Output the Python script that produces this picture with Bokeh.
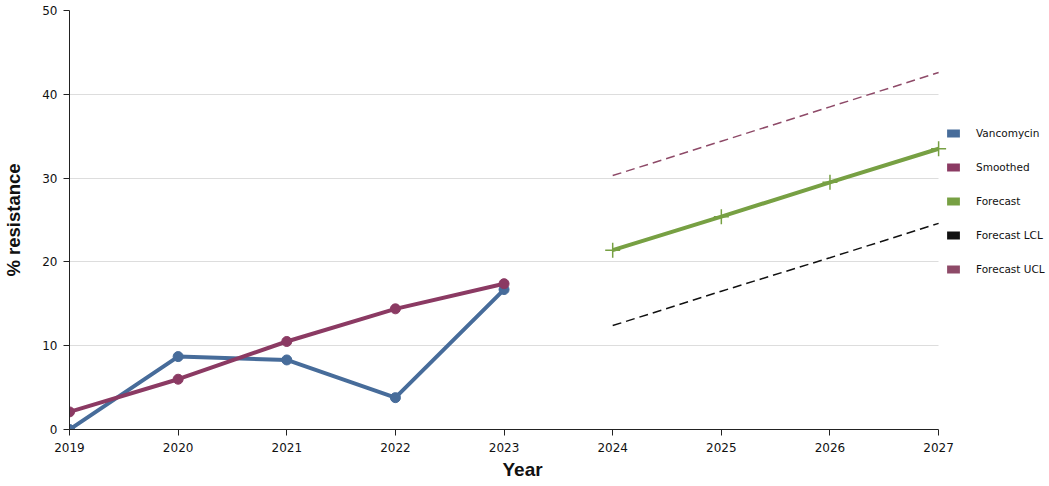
from bokeh.plotting import figure
from bokeh.models import ColumnDataSource, Legend, LegendItem, FixedTicker, Title
from bokeh.embed import file_html
from bokeh.resources import INLINE

years_obs = [2019, 2020, 2021, 2022, 2023]
vancomycin = [0.0, 8.7, 8.3, 3.8, 16.7]
smoothed = [2.1, 6.0, 10.5, 14.4, 17.4]

years_fc = [2024, 2025, 2026, 2027]
forecast = [21.4, 25.4, 29.5, 33.5]
forecast_lcl = [12.4, 16.5, 20.5, 24.6]
forecast_ucl = [30.3, 34.4, 38.5, 42.6]

x_ticks = [2019, 2020, 2021, 2022, 2023, 2024, 2025, 2026, 2027]
y_ticks = [0, 10, 20, 30, 40, 50]

legend_labels = ["Vancomycin", "Smoothed", "Forecast", "Forecast LCL", "Forecast UCL"]
x_title = "Year"
y_title = "% resistance"

BLUE = "#476c9a"
MAROON = "#8b3a63"
GREEN = "#77a043"
BLACK = "#111111"
UCL = "#8e4a68"
colors = [BLUE, MAROON, GREEN, BLACK, UCL]

# layout: plotted years span 870 px, legend sits to the right inside the frame
FIG_W, FIG_H, LEFT, TOP, BOTTOM = 1049, 486, 68, 10, 57
PLOT_W = 870
x_start, x_end_data = x_ticks[0], x_ticks[-1]
x_end = x_start + (x_end_data - x_start) * (FIG_W - LEFT) / PLOT_W

p = figure(width=FIG_W, height=FIG_H, output_backend="svg", toolbar_location=None,
           x_range=(x_start, x_end), y_range=(0, 50),
           min_border_left=LEFT, min_border_right=0, min_border_top=TOP,
           min_border_bottom=BOTTOM)
p.outline_line_color = None
p.background_fill_color = "white"
p.border_fill_color = "white"

obs = ColumnDataSource(dict(x=years_obs, v=vancomycin, s=smoothed))
fc = ColumnDataSource(dict(x=years_fc, f=forecast, l=forecast_lcl, u=forecast_ucl))

p.line("x", "v", source=obs, line_color=BLUE, line_width=4)
p.scatter("x", "v", source=obs, marker="circle", size=10, fill_color=BLUE, line_color=BLUE)
p.line("x", "s", source=obs, line_color=MAROON, line_width=4)
p.scatter("x", "s", source=obs, marker="circle", size=10, fill_color=MAROON, line_color=MAROON)

p.line("x", "u", source=fc, line_color=UCL, line_width=1.5, line_dash="9 5")
p.line("x", "l", source=fc, line_color=BLACK, line_width=1.5, line_dash="9 5")
p.line("x", "f", source=fc, line_color=GREEN, line_width=4)
p.scatter("x", "f", source=fc, marker="cross", size=15, line_color=GREEN, line_width=1.5)

# legend swatches (nothing drawn in the plot area)
nan = float("nan")
items = []
for lab, col in zip(legend_labels, colors):
    r = p.quad(left=[nan], right=[nan], top=[nan], bottom=[nan], fill_color=col, line_color=None)
    items.append(LegendItem(label=lab, renderers=[r]))

legend = Legend(items=items, location=(876, 152), padding=0, margin=0,
                border_line_color=None, background_fill_alpha=0,
                glyph_width=16, glyph_height=10, label_height=16, spacing=18,
                label_standoff=15, label_text_font="DejaVu Sans",
                label_text_font_size="10.5px", label_text_color="#111111")
p.add_layout(legend)

p.xaxis.ticker = FixedTicker(ticks=x_ticks)
p.yaxis.ticker = FixedTicker(ticks=y_ticks)
p.xaxis.bounds = (x_start, x_end_data)
p.xaxis.minor_tick_line_color = None
p.yaxis.minor_tick_line_color = None
for ax in (p.xaxis, p.yaxis):
    ax.axis_line_color = "#222222"
    ax.major_tick_line_color = "#222222"
    ax.major_tick_out = 6
    ax.major_tick_in = 0
    ax.major_label_text_font = "DejaVu Sans"
    ax.major_label_text_font_size = "12px"
    ax.major_label_text_color = "#111111"
    ax.axis_label_text_font = "Liberation Sans"
    ax.axis_label_text_font_style = "bold"
    ax.axis_label_text_font_size = "18.5px"
    ax.axis_label_text_color = "#111111"

p.yaxis.axis_label = y_title
p.yaxis.axis_label_standoff = 15
p.xaxis.major_label_standoff = 7
p.yaxis.major_label_standoff = 6

# x title placed below the axis, centred under the plotted years
p.add_layout(Title(text=x_title, align="left", offset=433, standoff=9,
                   vertical_align="top",
                   text_font="Liberation Sans", text_font_style="bold",
                   text_font_size="19px", text_color="#111111"), "below")

p.xgrid.grid_line_color = None
p.ygrid.grid_line_color = "#dddddd"
p.ygrid.grid_line_width = 1
p.ygrid.cross_bounds = (x_start, x_end_data)

open("out.html", "w").write(file_html(p, INLINE))
